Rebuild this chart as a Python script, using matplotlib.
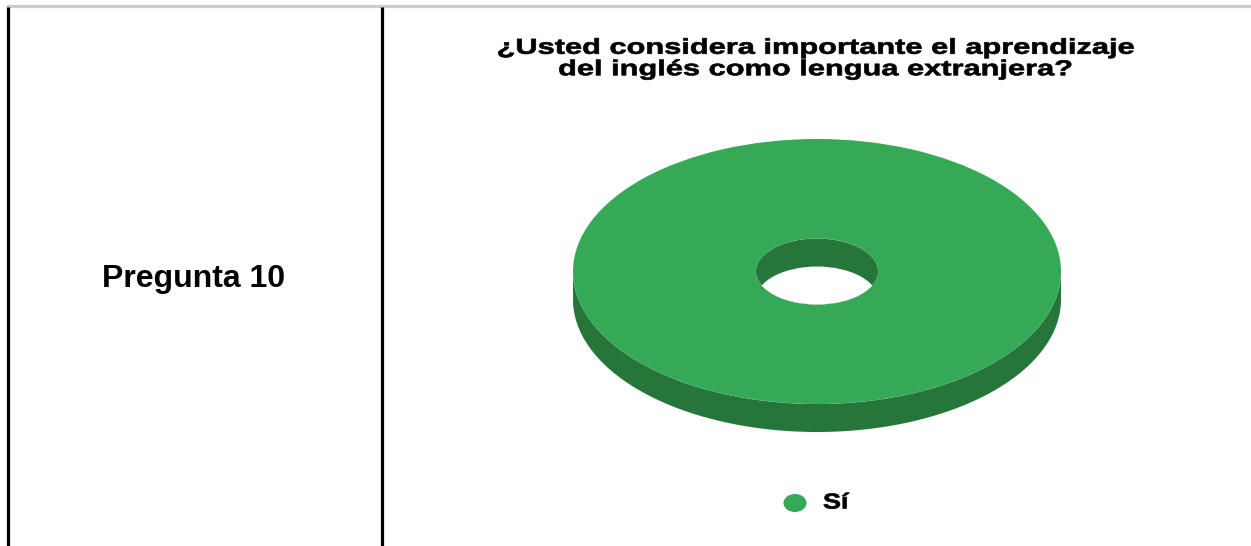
import numpy as np
import matplotlib.pyplot as plt
from matplotlib.patches import Ellipse, Wedge
from matplotlib.patheffects import AbstractPathEffect
from matplotlib.transforms import Affine2D

title = '¿Usted considera importante el aprendizaje\ndel inglés como lengua extranjera?'
row_label = 'Pregunta 10'
categories = ['Sí']
values = [100]
slice_colors = ['#36a956']
side_colors = ['#26763c']

plt.rcParams['font.family'] = ['Liberation Sans', 'DejaVu Sans']


# the source has its title and legend stretched sideways, and a bit heavier
class StretchX(AbstractPathEffect):
    def __init__(self, anchor, factor, weight=0.5):
        super().__init__()
        self.anchor = anchor
        self.factor = factor
        self.weight = weight

    def draw_path(self, renderer, gc, tpath, affine, rgbFace=None):
        stretch = Affine2D().translate(-self.anchor, 0).scale(self.factor, 1).translate(self.anchor, 0)
        gc0 = renderer.new_gc()
        gc0.copy_properties(gc)
        gc0.set_linewidth(self.weight)
        gc0.set_foreground(rgbFace)
        renderer.draw_path(gc0, tpath, affine + stretch, rgbFace)
        gc0.restore()


fig = plt.figure(figsize=(12.51, 5.46), dpi=100, facecolor='white')
ax = fig.add_axes([0, 0, 1, 1])
ax.set_xlim(0, 1251)
ax.set_ylim(546, 0)
ax.axis('off')

# table lines
ax.plot([6, 1251], [5.5, 5.5], color='#cccccc', lw=2.3, solid_capstyle='butt')
ax.plot([7.5, 7.5], [7, 546], color='black', lw=2.3, solid_capstyle='butt')
ax.plot([381.5, 381.5], [7, 546], color='black', lw=2.3, solid_capstyle='butt')
ax.text(194, 279.5, row_label, fontsize=23, fontweight='bold', ha='center', va='center')

cx, cy = 817, 271.5
rx, ry = 244, 132.5
depth = 28
hx, hy = 61, 33

total = sum(values)
start = 0
for v, c, s in zip(values, slice_colors, side_colors):
    ang = 360 * v / total
    # rim
    t = np.linspace(0, np.pi, 200)
    xs = cx + rx * np.cos(t)
    ys = cy + ry * np.sin(t)
    verts = list(zip(xs, ys + depth)) + list(zip(xs[::-1], ys[::-1]))
    ax.fill(*zip(*verts), color=s, lw=0, zorder=2)
    # top face
    w = Wedge((0, 0), 1, start, start + ang, width=1 - hx / rx, color=c, lw=0, zorder=3)
    w.set_transform(Affine2D().scale(rx, ry).translate(cx, cy) + ax.transData)
    ax.add_patch(w)
    start += ang

# hole: white through the bottom, inner wall on top
ax.add_patch(Ellipse((cx, cy), 2 * hx, 2 * hy, color=s, lw=0, zorder=4))
clip = Ellipse((cx, cy), 2 * hx, 2 * hy, transform=ax.transData)
low = Ellipse((cx, cy + depth), 2 * hx, 2 * hy, color='white', lw=0, zorder=5)
ax.add_patch(low)
low.set_clip_path(clip)

# legend
ax.add_patch(Ellipse((795, 503), 23, 18, color=slice_colors[0], lw=0, zorder=3))
ax.text(823, 503, categories[0], fontsize=15.5, fontweight='bold', ha='left', va='center',
        path_effects=[StretchX(823, 1.25)])

# title
ax.text(816, 59, title, fontsize=15.5, fontweight='bold', ha='center', va='center',
        multialignment='center', linespacing=1.03, color='black',
        path_effects=[StretchX(816, 1.43)])

fig.savefig('out.png', dpi=100, facecolor='white')
